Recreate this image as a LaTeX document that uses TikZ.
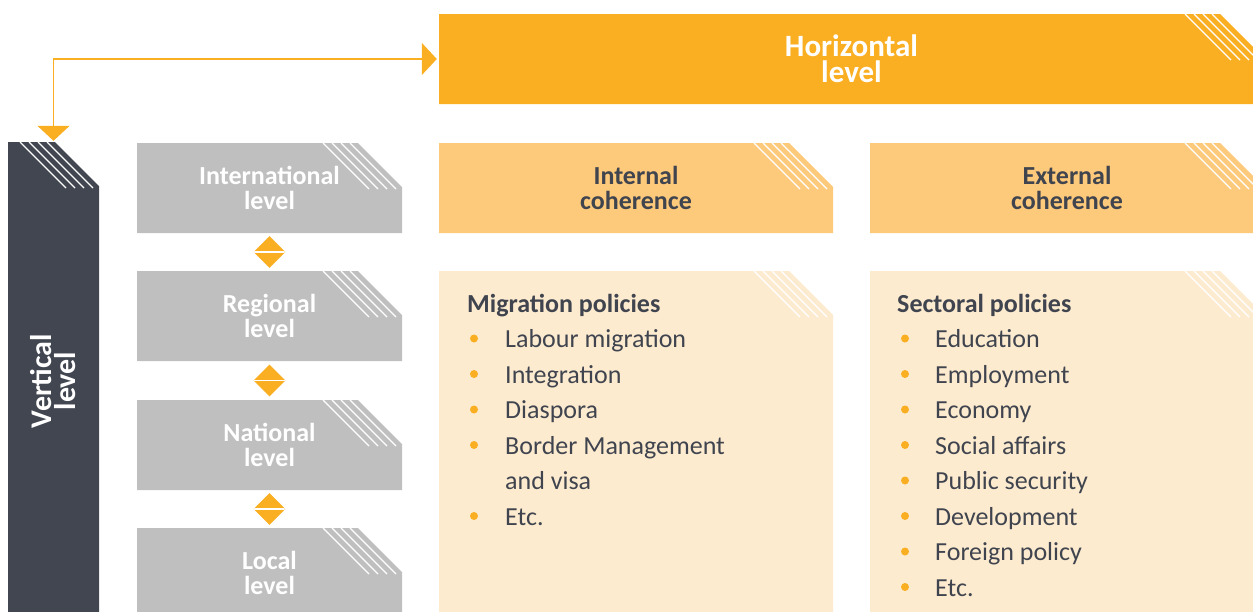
\documentclass[tikz,border=0pt]{standalone}
\usepackage{fontspec}
\setmainfont{Carlito}
\usetikzlibrary{arrows.meta,shapes.geometric}
\definecolor{amber}{HTML}{FAAE21}
\definecolor{slate}{HTML}{414650}
\definecolor{ash}{HTML}{BFBFBF}
\definecolor{apricot}{HTML}{FDC97B}
\definecolor{cream}{HTML}{FDEBD0}
\definecolor{ink}{HTML}{3F444E}
\tikzset{
	cutbox/.style={inner sep=0pt, align=center,
		font=\bfseries\fontsize{26}{25}\selectfont,
		path picture={
			\fill[#1] (path picture bounding box.south west)
			|- ([xshift=-44pt]path picture bounding box.north east)
			-- ([yshift=-44pt]path picture bounding box.north east)
			-- (path picture bounding box.south east) -- cycle;
			\foreach \k in {0,...,3}
			\draw[white,line width=1.1pt]
			([xshift={(9*\k-79)*1pt}]path picture bounding box.north east) -- ++(46pt,-46pt);
	}},
	updown/.style={diamond, fill=amber, inner sep=0pt, minimum width=32pt, minimum height=32pt,
		path picture={\draw[white,line width=1.5pt] (path picture bounding box.west) -- (path picture bounding box.east);}},
	link/.style={amber, line width=1.3pt,
		{Triangle[length=15pt,width=32pt]}-{Triangle[length=15pt,width=32pt]}},
	head/.style={anchor=base west, inner sep=0pt, text=ink, font=\bfseries\fontsize{26}{30}\selectfont},
	item/.style={anchor=base west, inner sep=0pt, text=ink, font=\fontsize{26}{30}\selectfont}
}
\begin{document}
\begin{tikzpicture}[x=1pt,y=-1pt]
	\useasboundingbox (0,0) rectangle (1253,611);
	\clip (0,0) rectangle (1253,611);
	\def\row{35.5} % pas entre les lignes des listes
	% niveau horizontal et vertical
	\node[cutbox=amber, text=white, minimum width=825pt, minimum height=90pt,
	font=\bfseries\fontsize{31}{26}\selectfont] (horiz) at (851.5,59) {Horizontal\\level};
	\node[cutbox=slate, minimum width=91pt, minimum height=478pt] (vert) at (53.5,381) {};
	\node[rotate=90, text=white, align=center, font=\bfseries\fontsize{30}{24}\selectfont]
	(vertlabel) at (vert) {Vertical\\level};
	\draw[link] ([yshift=1pt]vert.north) |- ([xshift=-2pt]horiz.west);
	% niveaux
	\foreach \n/\y/\t in {intl/188/International, reg/316/Regional, nat/445/National, loc/573/Local}
	\node[cutbox=ash, text=white, minimum width=265pt, minimum height=90pt] (\n) at (269.5,\y) {\t\\level};
	\foreach \a/\b in {intl/reg, reg/nat, nat/loc}
	\path (\a) -- (\b) node[midway, updown] (\a-\b) {};
	% coherence
	\node[cutbox=apricot, text=ink, minimum width=394pt, minimum height=90pt] (intc) at (636,188) {Internal\\coherence};
	\node[cutbox=apricot, text=ink, minimum width=394pt, minimum height=90pt] (extc) at (1067,188) {External\\coherence};
	\node[cutbox=cream, minimum width=394pt, minimum height=349pt] (intp) at (636,445.5) {};
	\node[cutbox=cream, minimum width=394pt, minimum height=349pt] (extp) at (1067,445.5) {};
	% listes
	\node[head] (mighead) at (467,312) {Migration policies};
	\foreach \t/\b [count=\i] in {Labour migration/1, Integration/1, Diaspora/1,
		Border Management/1, and visa/0, Etc./1}
	{
		\node[item] (mig\i) at (505,{312+\row*\i}) {\t};
		\ifnum\b=1 \fill[amber] (474,{303+\row*\i}) circle (4pt); \fi
	}
	\node[head] (sechead) at (897,312) {Sectoral policies};
	\foreach \t [count=\i] in {Education, Employment, Economy, Social affairs,
		Public security, Development, Foreign policy, Etc.}
	{
		\node[item] (sec\i) at (935,{312+\row*\i}) {\t};
		\fill[amber] (905,{303+\row*\i}) circle (4pt);
	}
\end{tikzpicture}
\end{document}
